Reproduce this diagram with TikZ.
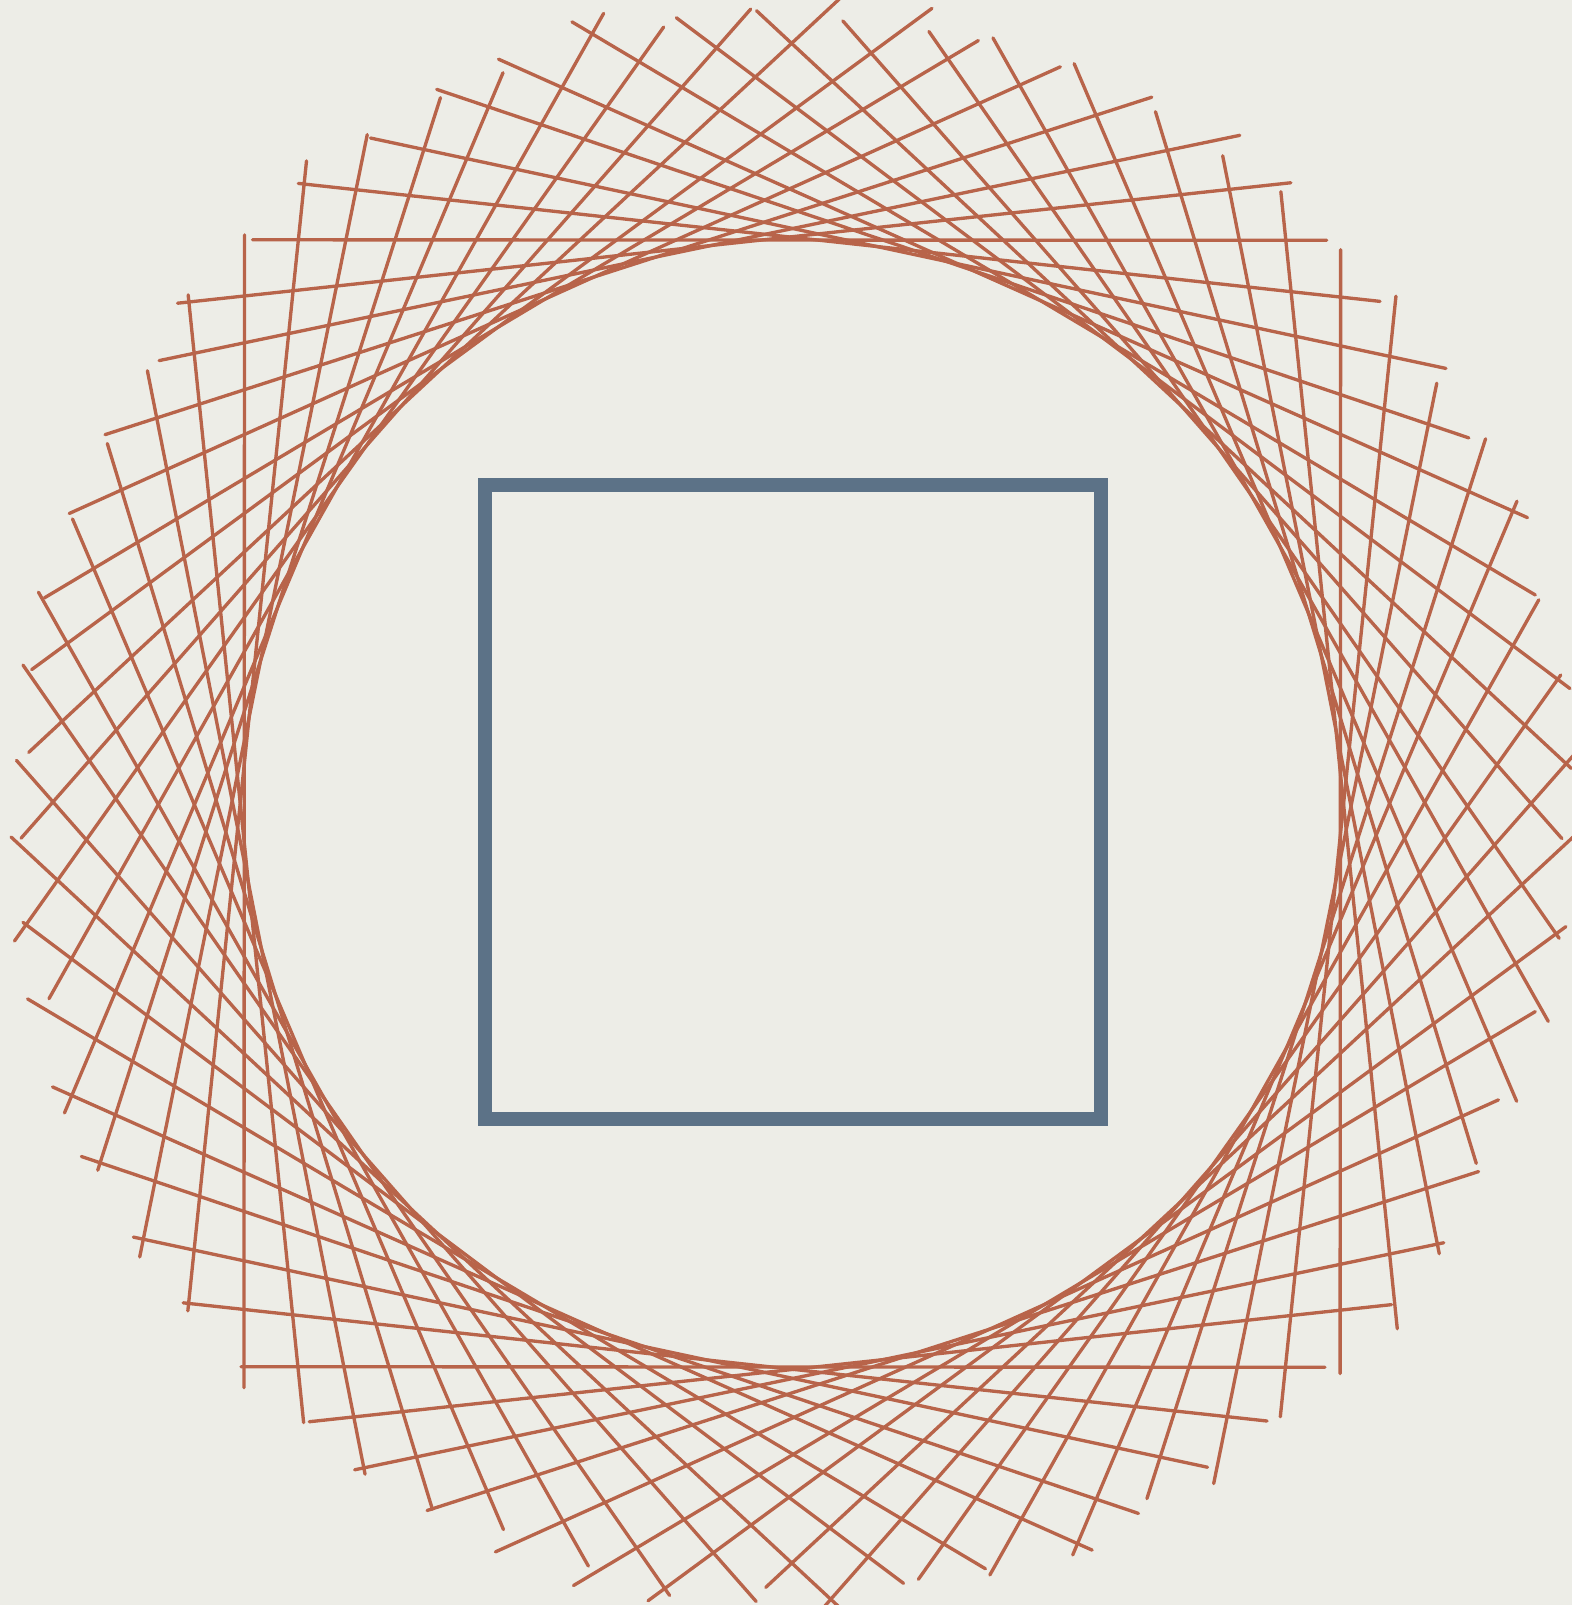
\documentclass[tikz,border=0pt]{standalone}
\definecolor{paper}{RGB}{237,237,231}
\definecolor{copper}{RGB}{184,100,74}
\definecolor{slate}{RGB}{92,114,135}
\usepackage{tikz}

\begin{document}
\begin{tikzpicture}[x=0.01cm, y=-0.01cm,
  strand/.style={draw=copper, line width=0.95pt, line cap=round},
  frame/.style={draw=slate, line width=4pt}
]
  \useasboundingbox[fill=paper] (0,0) rectangle (1572,1605);
  \pgfmathsetseed{777}

  % ring of sketchy rotated squares
  \begin{scope}[shift={(792,803)}, yscale=1.028]
    \foreach \k in {0,...,14}{
      \pgfmathsetmacro\rot{6*\k + 0.6*rand}
      \foreach \s in {0,1,2,3}{
        \pgfmathsetmacro\dist{548 + 0.8*rand}
        \pgfmathsetmacro\ea{548 + 42*rnd - 18}
        \pgfmathsetmacro\eb{548 + 42*rnd - 18}
        \draw[strand, rotate=\rot+90*\s] (\dist,-\ea) -- (\dist,\eb);
      }
    }
  \end{scope}

  % square in the middle
  \draw[frame] (485,485) rectangle (1101,1119);
\end{tikzpicture}
\end{document}
